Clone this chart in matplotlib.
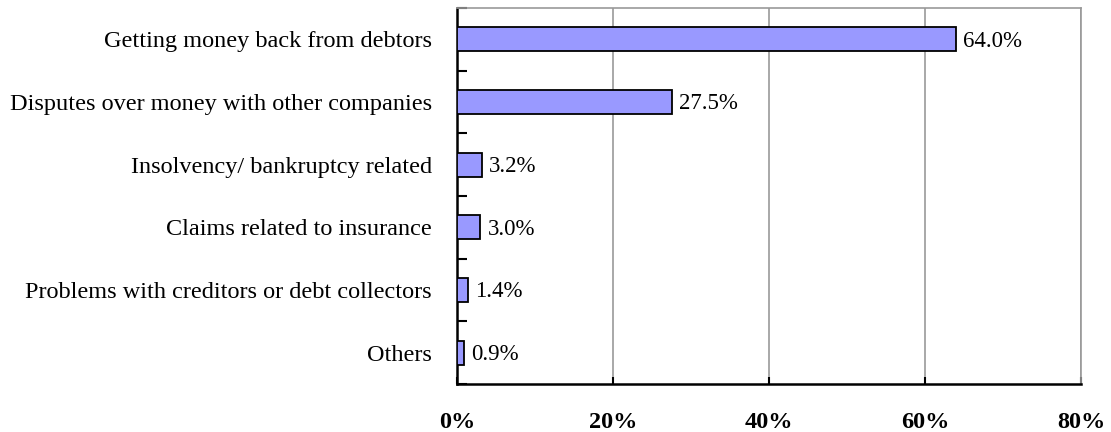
import matplotlib.pyplot as plt
import numpy as np

categories = ['Getting money back from debtors',
              'Disputes over money with other companies',
              'Insolvency/ bankruptcy related',
              'Claims related to insurance',
              'Problems with creditors or debt collectors',
              'Others']
shares = [64.0, 27.5, 3.2, 3.0, 1.4, 0.9]
xticks = [0, 20, 40, 60, 80]

plt.rcParams['font.family'] = ['Liberation Serif', 'DejaVu Serif']

fig = plt.figure(figsize=(11.11, 4.32), dpi=100)
ax = fig.add_axes([457 / 1111, 1 - 384 / 432, 624 / 1111, 376 / 432])

y = np.arange(len(categories))
ax.barh(y, shares, height=0.38, color='#9999ff', edgecolor='black', linewidth=1.3, zorder=3)
for yi, v in zip(y, shares):
    ax.text(v + 0.9, yi + 0.03, f'{v:.1f}%', va='center', ha='left', fontsize=16.5)

ax.set_xlim(0, 80)
ax.set_ylim(len(categories) - 0.5, -0.5)
ax.set_xticks(xticks)
ax.set_xticklabels([f'{t}%' for t in xticks], fontsize=17.5, fontweight='bold')
ax.tick_params(axis='x', direction='in', length=5, width=1.5, pad=20, color='black')

ax.set_yticks(y)
ax.set_yticklabels(categories, fontsize=17.5)
ax.tick_params(axis='y', which='major', length=0, pad=18)
ax.set_yticks(np.arange(-0.5, len(categories), 1.0), minor=True)
ax.tick_params(axis='y', which='minor', direction='in', length=7, width=1.5, color='black')

ax.grid(axis='x', color='#999999', linewidth=1.2, zorder=0)
for side in ['top', 'right']:
    ax.spines[side].set_color('#999999')
    ax.spines[side].set_linewidth(1.2)
for side in ['left', 'bottom']:
    ax.spines[side].set_color('black')
    ax.spines[side].set_linewidth(1.8)

fig.savefig('out.png', dpi=100)
